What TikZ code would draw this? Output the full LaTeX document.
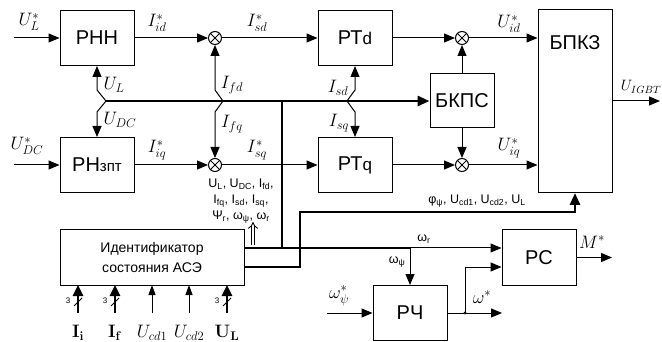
\RequirePackage{fix-cm}
\documentclass[tikz,border=0pt]{standalone}
\usepackage[no-math]{fontspec}
\setmainfont{Liberation Sans}
\usepackage{amsmath}
\usetikzlibrary{arrows.meta,positioning,calc}

\begin{document}
\begin{tikzpicture}[x=1pt,y=-1pt,
	bloc/.style={draw,line width=1pt,minimum width=74pt,minimum height=55pt,inner sep=0pt,font=\fontsize{20}{22}\selectfont},
	somme/.style={draw,circle,line width=1pt,minimum size=13pt,inner sep=0pt,
		path picture={\draw[line width=0.8pt] (path picture bounding box.north west)--(path picture bounding box.south east)
			(path picture bounding box.north east)--(path picture bounding box.south west);}},
	fl/.style={line width=1pt,-{Triangle[length=11pt,width=9pt]}},
	gros/.style={line width=2.8pt},
	grosfl/.style={line width=2.8pt,-{Triangle[length=12pt,width=10pt]}},
	lbl/.style={font=\fontsize{18}{20}\selectfont,inner sep=0pt},
	petit/.style={font=\fontsize{12.5}{16}\selectfont,align=center,inner sep=0pt}]
	\useasboundingbox (0,0) rectangle (662,342);
	%% blocs de regulation
	\node[bloc] (rnn) at (97,38) {РНН};
	\node[bloc] (rnz) at (97,165) {РН{\fontsize{15}{16}\selectfont зпт}};
	\node[somme] (s1) at (215,38) {};
	\node[somme] (s2) at (215,165) {};
	\node[bloc] (rtd) at (355,38) {РТ{\fontsize{17}{18}\selectfont d}};
	\node[bloc] (rtq) at (355,165) {РТ{\fontsize{17}{18}\selectfont q}};
	\node[somme] (s3) at (462,38) {};
	\node[somme] (s4) at (462,165) {};
	\node[bloc,minimum width=64pt,minimum height=54pt] (bkps) at (462,101) {БКПС};
	\node[bloc,minimum height=183pt] (bpkz) at (575,101) {};
	\node[font=\fontsize{20}{22}\selectfont] (bpkzt) at (575,43) {БПКЗ};
	\node[bloc,minimum width=184pt,font=\fontsize{14}{20}\selectfont,align=center] (ident) at (152,257.5) {Идентификатор\\состояния АСЭ};
	\node[bloc] (rs) at (539,257.5) {РС};
	\node[bloc] (rch) at (410,313) {РЧ};
	
	%% points libres
	\coordinate (eUL) at (14,38);
	\coordinate (eUDC) at (14,165);
	\coordinate (eIGBT) at (660,101);
	\coordinate (bL) at (106,101);
	\coordinate (bF) at (223,101);
	\coordinate (bS) at (347,101);
	\coordinate (nV) at (282,101);
	\coordinate (nB) at (282,248);
	\coordinate (nW) at (410,248);
	\coordinate (c0) at (300,267);
	\coordinate (c1) at (300,212);
	\coordinate (c2) at (575,212);
	\coordinate (dW) at (465,313);
	\coordinate (dR) at (465,267);
	\coordinate (eW) at (502,313);
	\coordinate (eWp) at (327,313);
	\coordinate (eM) at (612,257.5);
	\coordinate (lA) at (253,245);
	\coordinate (lB) at (253,222);
	
	%% chaine directe
	\draw[fl] (eUL) -- (rnn);
	\draw[fl] (rnn) -- (s1);
	\draw[fl] (s1) -- (rtd);
	\draw[fl] (rtd) -- (s3);
	\draw[fl] (s3) -- (s3 -| bpkz.west);
	\draw[fl] (eUDC) -- (rnz);
	\draw[fl] (rnz) -- (s2);
	\draw[fl] (s2) -- (rtq);
	\draw[fl] (rtq) -- (s4);
	\draw[fl] (s4) -- (s4 -| bpkz.west);
	\draw[fl] (bkps) -- (s3);
	\draw[fl] (bkps) -- (s4);
	\draw[fl] (bpkz) -- (eIGBT);
	
	%% retours depuis le bus
	\draw[fl] (bL) -- ++(-9,-11) -- (rnn.south);
	\draw[fl] (bL) -- ++(-9,11) -- (rnz.north);
	\draw[fl] (bF) -- ++(-8,-11) -- (s1.south);
	\draw[fl] (bF) -- ++(-8,11) -- (s2.north);
	\draw[fl] (bS) -- ++(8,-11) -- (rtd.south);
	\draw[fl] (bS) -- ++(8,11) -- (rtq.north);
	\draw[grosfl] (bL) -- (bkps);
	\draw[gros] (nV) -- (nB);
	
	%% sorties de l'identificateur
	\draw[gros] (ident.east |- nB) -- (nW);
	\draw[fl] (nW) -- (rs.west |- nW);
	\draw[fl] (nW) -- (rch);
	\draw[grosfl] (ident.east |- c0) -- (c0) -- (c1) -- (c2) -- (bpkz.south);
	\draw[line width=0.9pt,double,double distance=2.6pt,-{Implies[length=6pt]}] (lA) -- (lB);
	
	%% regulateurs de vitesse
	\draw[fl] (eWp) -- (rch);
	\draw[fl] (rch) -- (eW);
	\fill (dW) circle (1.6pt);
	\draw[fl] (dW) -- (dR) -- (rs.west |- dR);
	\draw[fl] (rs) -- (eM);
	
	%% entrees mesurees
	\foreach \x/\txt in {78/{\mathbf{I}_{\mathbf{i}}},115/{\mathbf{I}_{\mathbf{f}}},227/{\mathbf{U}_{\mathbf{L}}}}{
		\draw[line width=2.5pt,-{Triangle[length=11pt,width=10pt]}] (\x,313) -- (\x,285);
		\draw[line width=0.8pt] (\x-4,306) -- (\x+4,298);
		\node[font=\fontsize{8}{9}\selectfont] at (\x-10,301) {3};
		\node[lbl] at (\x,333) {$\txt$};
	}
	\foreach \x/\txt in {152/{U_{cd1}},189/{U_{cd2}}}{
		\draw[line width=1pt,-{Triangle[length=10pt,width=7pt]}] (\x,313) -- (\x,285);
		\node[lbl] at (\x,333) {$\txt$};
	}
	
	%% etiquettes
	\node[lbl] at (29,22) {$U^*_L$};
	\node[lbl] at (27,146) {$U^*_{DC}$};
	\node[lbl] at (157,23) {$I^*_{id}$};
	\node[lbl] at (257,23) {$I^*_{sd}$};
	\node[lbl] at (509,24) {$U^*_{id}$};
	\node[lbl] at (157,150) {$I^*_{iq}$};
	\node[lbl] at (257,150) {$I^*_{sq}$};
	\node[lbl] at (509,148) {$U^*_{iq}$};
	\node[lbl] at (114,85) {$U_L$};
	\node[lbl] at (120,120) {$U_{DC}$};
	\node[lbl] at (232,85) {$I_{fd}$};
	\node[lbl] at (232,124) {$I_{fq}$};
	\node[lbl] at (338,88) {$I_{sd}$};
	\node[lbl] at (339,123) {$I_{sq}$};
	\node[lbl,font=\fontsize{15}{17}\selectfont] at (641,87) {$U_{IGBT}$};
	\node[lbl] at (592,242) {$M^*$};
	\node[lbl] at (339,296) {$\omega^*_\psi$};
	\node[lbl] at (482,297) {$\omega^*$};
	\node[petit] at (241,201) {U\textsubscript{L}, U\textsubscript{DC}, I\textsubscript{fd},\\I\textsubscript{fq}, I\textsubscript{sd}, I\textsubscript{sq},\\Ψ\textsubscript{r}, ω\textsubscript{ψ}, ω\textsubscript{r}};
	\node[petit] at (477,201) {φ\textsubscript{ψ}, U\textsubscript{cd1}, U\textsubscript{cd2}, U\textsubscript{L}};
	\node[petit] at (424,239) {ω\textsubscript{r}};
	\node[petit] at (397,262) {ω\textsubscript{ψ}};
\end{tikzpicture}
\end{document}
